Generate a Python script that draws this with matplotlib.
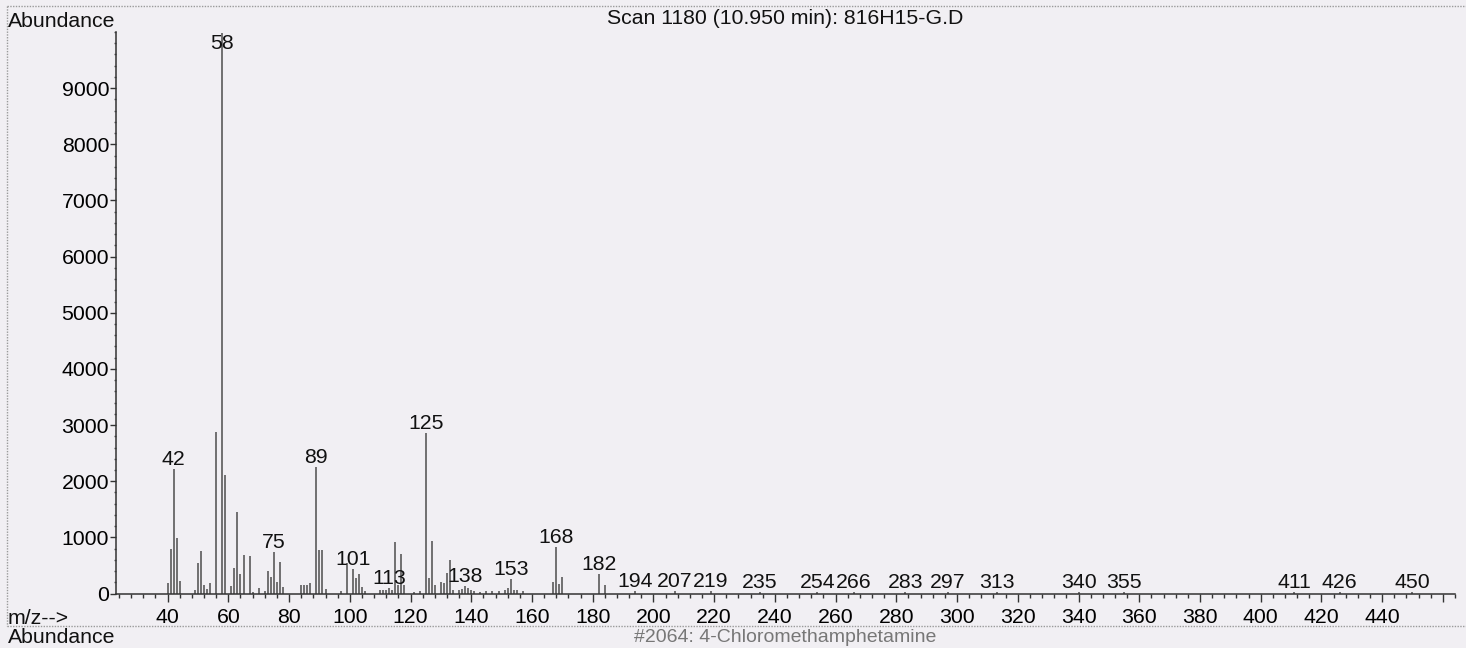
import numpy as np
import matplotlib.pyplot as plt
from matplotlib.lines import Line2D
from matplotlib.ticker import MultipleLocator, FixedLocator

plt.rcParams['font.family'] = ['Liberation Sans', 'DejaVu Sans']

# m/z and abundance
mz = [40, 41, 42, 43, 44, 49, 50, 51, 52, 53, 54, 56, 58, 59, 61, 62, 63, 64, 65, 67,
      68, 70, 72, 73, 74, 75, 76, 77, 78, 84, 85, 86, 87, 89, 90, 91, 92, 97, 99, 101,
      102, 103, 104, 105, 110, 111, 112, 113, 114, 115, 116, 117, 118, 121, 123, 125, 126, 127, 128, 130,
      131, 132, 133, 134, 136, 137, 138, 139, 140, 141, 143, 145, 147, 149, 151, 152, 153, 154, 155, 157,
      167, 168, 169, 170, 182, 184, 194, 207, 219, 235, 254, 266, 283, 297, 313, 340, 355, 411, 426, 450]
abund = [180, 800, 2220, 980, 220, 60, 535, 765, 150, 80, 180, 2870, 9990, 2110, 125, 450, 1450, 355, 690, 660,
         30, 95, 50, 405, 295, 745, 200, 565, 120, 150, 150, 150, 180, 2260, 770, 770, 80, 40, 535, 430,
         280, 345, 110, 40, 60, 70, 60, 100, 70, 920, 150, 710, 150, 30, 40, 2860, 280, 935, 150, 210,
         180, 360, 590, 60, 60, 80, 140, 100, 60, 40, 30, 40, 40, 50, 60, 90, 250, 70, 60, 40,
         210, 830, 170, 290, 355, 150, 40, 40, 40, 30, 30, 30, 30, 30, 30, 30, 30, 20, 20, 20]

labelled = [42, 58, 75, 89, 101, 113, 125, 138, 153, 168, 182, 194, 207, 219, 235,
            254, 266, 283, 297, 313, 340, 355, 411, 426, 450]

title = 'Scan 1180 (10.950 min): 816H15-G.D'
library_hit = '#2064: 4-Chloromethamphetamine'

fs = 15.3
bg = '#f1eff3'
fig = plt.figure(figsize=(14.66, 6.48), dpi=100, facecolor=bg)
ax = fig.add_axes([116/1466, 54.5/648, 1339/1466, 561.5/648])
ax.set_facecolor(bg)

ax.vlines(mz, 0, abund, colors='#5a5a5a', lw=1.2)

ymax = 10000
ax.set_xlim(23, 464)
ax.set_ylim(0, ymax)

for m in labelled:
    h = abund[mz.index(m)]
    if h > 0.95 * ymax:
        ax.annotate(str(m), (m, ymax), xytext=(0, -1.5), textcoords='offset points',
                    ha='center', va='top', fontsize=fs, color='#111111')
    else:
        ax.annotate(str(m), (m, h), xytext=(0, 0), textcoords='offset points',
                    ha='center', va='bottom', fontsize=fs, color='#111111')

for s in ['top', 'right']:
    ax.spines[s].set_visible(False)
for s in ['left', 'bottom']:
    ax.spines[s].set_color('#333333')
    ax.spines[s].set_linewidth(1.1)

ax.xaxis.set_major_locator(FixedLocator(np.arange(40, 461, 20)))
ax.xaxis.set_minor_locator(MultipleLocator(4))
ax.set_xticklabels([str(v) if v <= 440 else '' for v in range(40, 461, 20)])
ax.yaxis.set_minor_locator(MultipleLocator(200))
ax.set_yticks(np.arange(0, 9001, 1000))
ax.tick_params(axis='x', which='major', length=6, width=1, pad=4.5, labelsize=fs, color='#333333')
ax.tick_params(axis='x', which='minor', length=3, width=1, color='#333333')
ax.tick_params(axis='y', which='major', length=4, width=1, pad=1, labelsize=fs, color='#333333')
ax.tick_params(axis='y', which='minor', length=1.5, width=1, color='#555555')

# page texts
fig.text(8/1466, 1 - 27/648, 'Abundance', fontsize=fs, va='baseline', ha='left', color='#111111')
fig.text(785/1466, 1 - 24.5/648, title, fontsize=fs, va='baseline', ha='center', color='#111111')
fig.text(8/1466, 1 - 624/648, 'm/z-->', fontsize=fs, va='baseline', ha='left', color='#111111')
fig.text(8/1466, 1 - 643/648, 'Abundance', fontsize=fs, va='baseline', ha='left', color='#111111')
fig.text(785/1466, 1 - 642/648, library_hit, fontsize=14, va='baseline', ha='center', color='#777777')

# dotted frame
frame = dict(color='#9a9a9a', lw=1, ls=(0, (1, 1)), transform=fig.transFigure)
fig.add_artist(Line2D([7/1466, 1], [1 - 6/648, 1 - 6/648], **frame))
fig.add_artist(Line2D([7/1466, 7/1466], [1 - 6/648, 1 - 626/648], **frame))
fig.add_artist(Line2D([7/1466, 1], [1 - 626/648, 1 - 626/648], **frame))

fig.savefig('out.png', dpi=100, facecolor=bg)
